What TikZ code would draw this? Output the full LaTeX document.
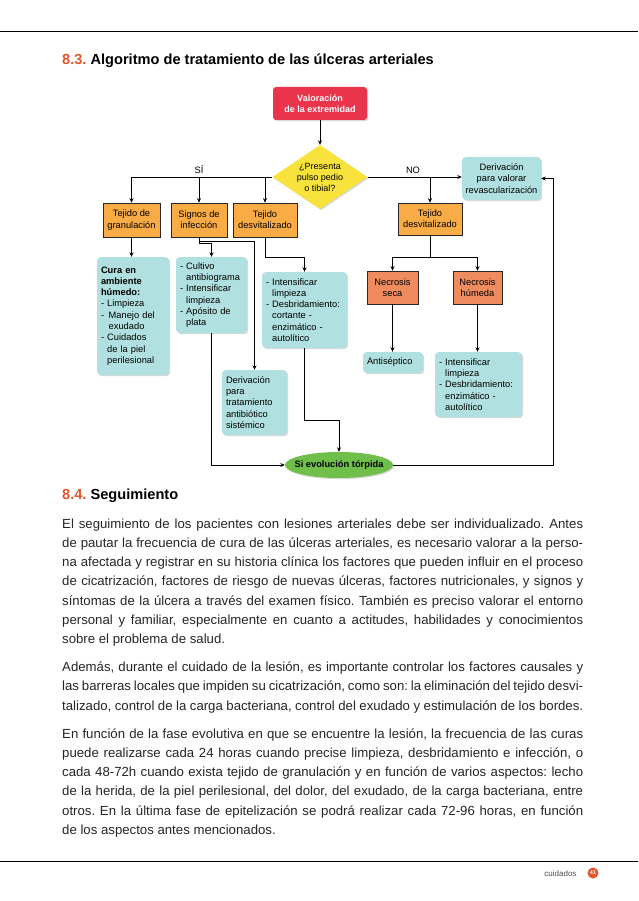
\documentclass[tikz,border=0pt]{standalone}
\usepackage{fontspec}
\setmainfont{Liberation Sans}
\usetikzlibrary{arrows.meta,shapes.geometric,shadows}
\definecolor{secnum}{HTML}{E5552B}
\definecolor{valred}{HTML}{E9344C}
\definecolor{pregyellow}{HTML}{F7E33B}
\definecolor{tejorange}{HTML}{F9AC45}
\definecolor{necsalmon}{HTML}{EF8C5F}
\definecolor{cuidcyan}{HTML}{B0E1E0}
\definecolor{torpgreen}{HTML}{70BF4B}
\newcommand{\contind}{\hphantom{- }}
\frenchspacing

\begin{document}
\begin{tikzpicture}[x=1pt,y=-1pt,
  font=\fontsize{9.3}{11.3}\selectfont,
  sombra/.style={drop shadow={shadow xshift=1.2pt,shadow yshift=-1.2pt,opacity=.3}},
  arr/.style={-{Stealth[length=4.5pt,width=4pt]},line width=.7pt},
  valorar/.style={fill=valred,rounded corners=3pt,sombra,text=white,font=\fontsize{9}{11.3}\selectfont\bfseries,align=center,minimum width=94pt,minimum height=33pt},
  pregunta/.style={diamond,aspect=1.5,fill=pregyellow,sombra,align=center,inner sep=0pt,minimum width=95pt,minimum height=64pt,font=\fontsize{9}{11}\selectfont},
  tejido/.style={draw=black!85,line width=.6pt,fill=tejorange,align=center,inner sep=1pt,minimum height=34pt},
  necro/.style={tejido,fill=necsalmon,minimum height=33pt},
  cuidado/.style={fill=cuidcyan,rounded corners=4pt,sombra,align=left,inner sep=4pt},
  torpe/.style={ellipse,fill=torpgreen,sombra,font=\fontsize{9.3}{11}\selectfont\bfseries,inner xsep=-8pt,inner ysep=2pt,minimum width=108pt,minimum height=26pt},
  cuerpo/.style={anchor=base west,inner sep=0pt,text width=521pt,align=justify,text=black!85,font=\fontsize{13.2}{19.3}\selectfont\frenchspacing},
  seccion/.style={anchor=base west,inner sep=0pt,font=\fontsize{14.6}{16}\selectfont\bfseries}]
\path[fill=white] (0,0) rectangle (638,901);
\useasboundingbox (0,0) rectangle (638,901);
\draw[line width=.9pt] (0,31) -- (638,31);
\node[seccion] (titulo) at (62,65) {\textcolor{secnum}{8.3.} Algoritmo de tratamiento de las úlceras arteriales};

\node[valorar] (valor) at (320,103.5) {Valoración\\de la extremidad};
\node[pregunta] (pulso) at (320,177) {¿Presenta\\pulso pedio\\o tibial?};
\node (si) at (199,170) {SÍ};
\node (no) at (413,170) {NO};
\node[tejido,minimum width=57pt] (granul) at (131.5,220) {Tejido de\\granulación};
\node[tejido,minimum width=56pt] (infecc) at (199,220) {Signos de\\infección};
\node[tejido,minimum width=64pt] (desvit) at (265,220) {Tejido\\desvitalizado};
\node[tejido,minimum width=64pt,minimum height=32pt] (desvitno) at (430,219) {Tejido\\desvitalizado};
\node[cuidado,align=center,inner sep=1pt,minimum width=79pt,minimum height=43pt] (revasc) at (501.5,178.5)
  {Derivación\\para valorar\\revascularización};
\node[cuidado,text width=64pt,minimum height=118pt] (cura) at (133,316)
  {\textbf{Cura en}\\\textbf{ambiente}\\\textbf{húmedo:}\\- Limpieza\\- \,Manejo del\\\contind\,exudado\\- Cuidados\\\contind de la piel\\\contind perilesional};
\node[cuidado,text width=63pt,minimum height=76pt] (cultivo) at (211.5,295)
  {- Cultivo\\\contind antibiograma\\- Intensificar\\\contind limpieza\\- Apósito de\\\contind plata};
\node[cuidado,text width=77pt,minimum height=76pt] (intens) at (304.5,310)
  {- Intensificar\\\contind limpieza\\- Desbridamiento:\\\contind cortante -\\\contind enzimático -\\\contind autolítico};
\node[necro,minimum width=51pt] (seca) at (392.5,287.5) {Necrosis\\seca};
\node[necro,minimum width=49pt] (humeda) at (477.5,287.5) {Necrosis\\húmeda};
\node[cuidado,text width=52pt,minimum height=21pt] (antisep) at (393,362.5) {Antiséptico};
\node[cuidado,text width=79pt,minimum height=65pt] (desbrid) at (478.5,384.5)
  {- Intensificar\\\contind limpieza\\- Desbridamiento:\\\contind enzimático -\\\contind autolítico};
\node[cuidado,text width=57pt,minimum height=65pt] (antibio) at (254.5,402.5)
  {Derivación\\para\\tratamiento\\antibiótico\\sistémico};
\node[torpe] (torpida) at (339,465) {Si evolución tórpida};

\draw[arr] (valor) -- (pulso);
\draw[arr] (pulso.west) -| (granul.north);
\draw[arr] (infecc.north |- pulso.west) -- (infecc.north);
\draw[arr] (desvit.north |- pulso.west) -- (desvit.north);
\draw[arr] (pulso.east) -- (pulso.east -| revasc.west);
\draw[arr] (desvitno.north |- pulso.east) -- (desvitno.north);
\draw[arr] (granul.south) -- (granul.south |- cura.north);
\draw[arr] (infecc.south) -- ++(0,6) -| (cultivo.north);
\draw[arr] (infecc.south) ++(0,4) -| (antibio.north);
\draw[arr] (desvit.south) -- ++(0,20) -| (intens.north);
\draw[line width=.7pt] (desvitno.south) -- ++(0,22) coordinate (reparto);
\draw[arr] (reparto) -| (seca.north);
\draw[arr] (reparto) -| (humeda.north);
\draw[arr] (seca.south) -- (seca.south |- antisep.north);
\draw[arr] (humeda.south) -- (humeda.south |- desbrid.north);
\draw[arr] (cultivo.south) |- (torpida.west);
\draw[arr] (intens.south) -- ++(0,72) -| (torpida.north);
\draw[arr] (torpida.east) -- ++(160,0) |- (revasc.east);

\node[seccion] (seguim) at (62,499) {\textcolor{secnum}{8.4.} Seguimiento};
\node[cuerpo] (parrafo1) at (62,528) {El seguimiento de los pacientes con lesiones arteriales debe ser individualizado. Antes\linebreak
de pautar la frecuencia de cura de las úlceras arteriales, es necesario valorar a la perso-\linebreak
na afectada y registrar en su historia clínica los factores que pueden influir en el proceso\linebreak
de cicatrización, factores de riesgo de nuevas úlceras, factores nutricionales, y signos y\linebreak
síntomas de la úlcera a través del examen físico. También es preciso valorar el entorno\linebreak
personal y familiar, especialmente en cuanto a actitudes, habilidades y conocimientos\linebreak
sobre el problema de salud.};
\node[cuerpo] (parrafo2) at (62,671.6) {Además, durante el cuidado de la lesión, es importante controlar los factores causales y\linebreak
las barreras locales que impiden su cicatrización, como son: la eliminación del tejido desvi-\linebreak
talizado, control de la carga bacteriana, control del exudado y estimulación de los bordes.};
\node[cuerpo] (parrafo3) at (62,738) {En función de la fase evolutiva en que se encuentre la lesión, la frecuencia de las curas\linebreak
puede realizarse cada 24 horas cuando precise limpieza, desbridamiento e infección, o\linebreak
cada 48-72h cuando exista tejido de granulación y en función de varios aspectos: lecho\linebreak
de la herida, de la piel perilesional, del dolor, del exudado, de la carga bacteriana, entre\linebreak
otros. En la última fase de epitelización se podrá realizar cada 72-96 horas, en función\linebreak
de los aspectos antes mencionados.};

\draw[line width=.8pt] (0,861) -- (638,861);
\node[anchor=base east,text=black!70,font=\fontsize{8}{10}\selectfont] (pie) at (580,876) {cuidados};
\node[circle,fill=secnum,text=white,font=\fontsize{5.5}{6}\selectfont\bfseries,inner sep=0pt,minimum size=11pt] (pagina) at (593,873) {41};
\end{tikzpicture}
\end{document}
